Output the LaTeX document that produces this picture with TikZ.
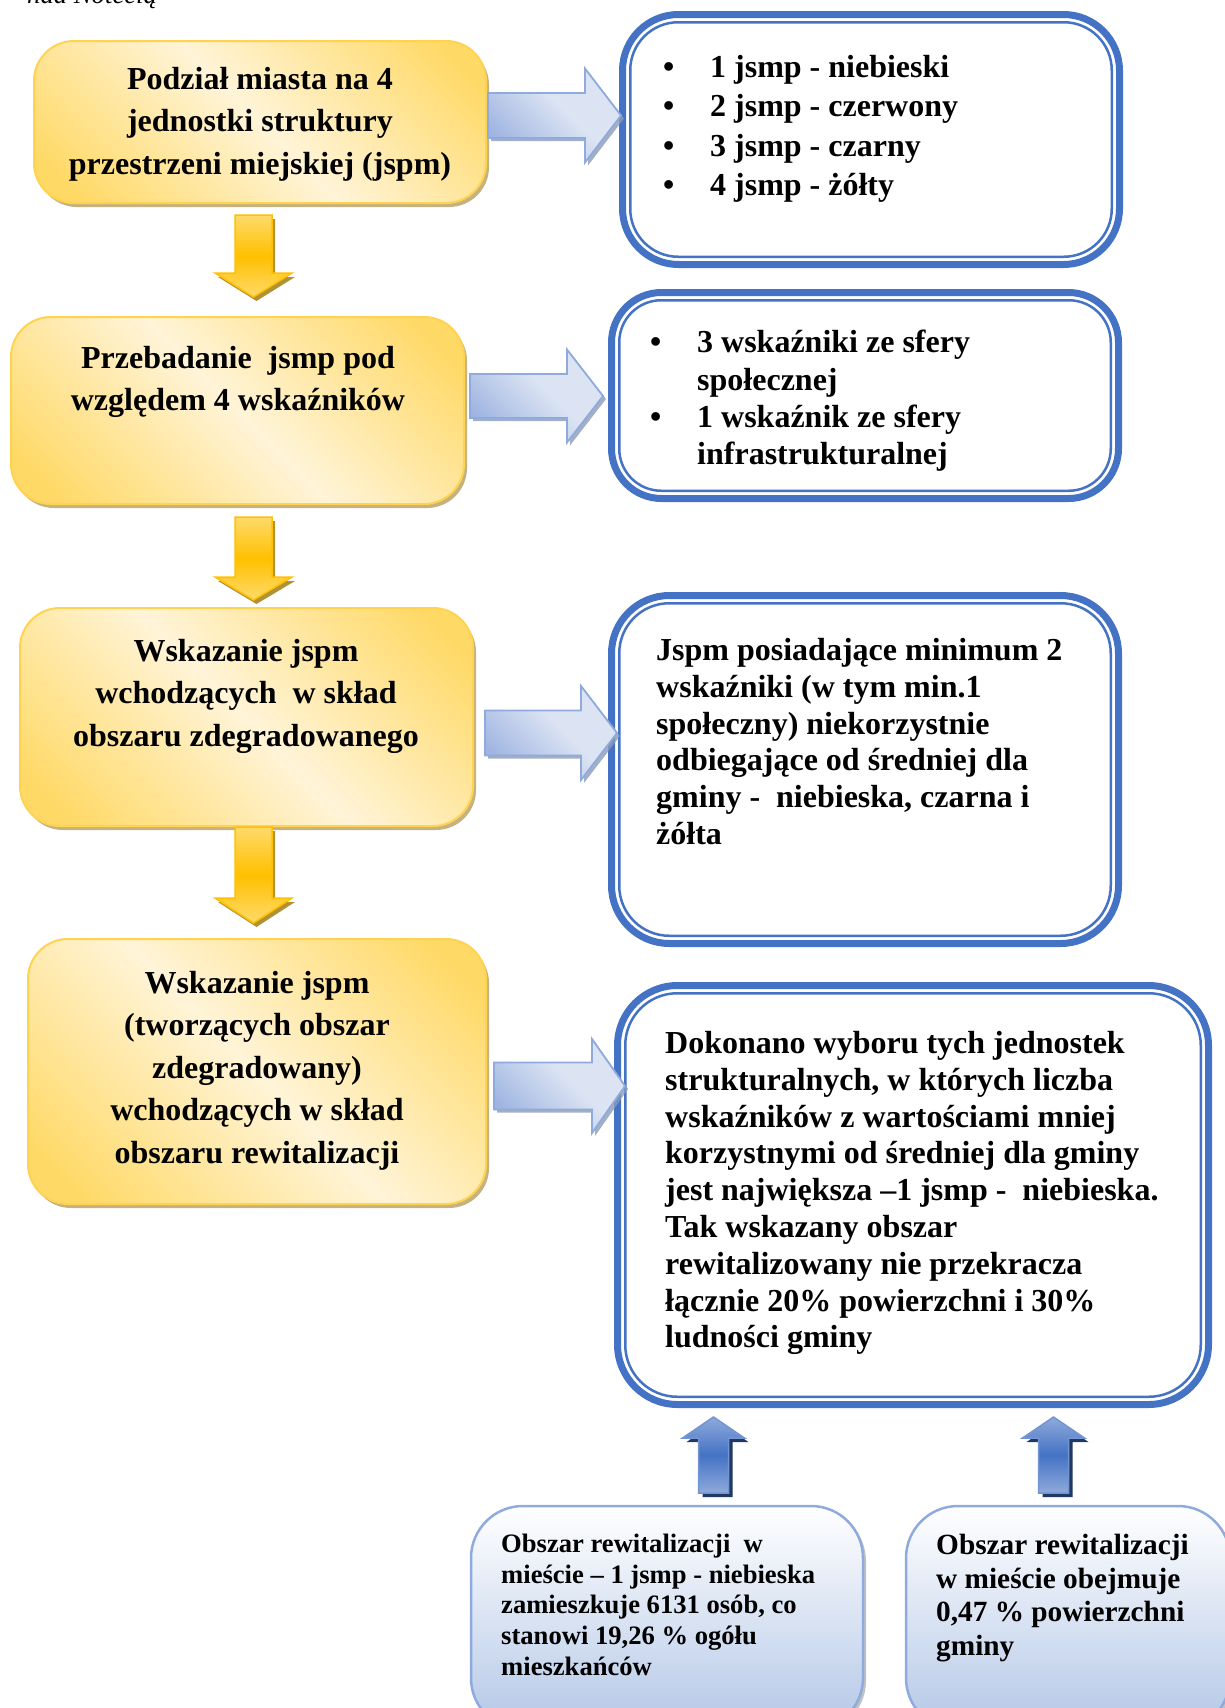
\documentclass[tikz,border=0pt]{standalone}
\usepackage{fontspec}
\setmainfont{Liberation Serif}
\usetikzlibrary{shadows}

\definecolor{ygold}{HTML}{FFD966}
\definecolor{ycream}{HTML}{FFF4D8}
\definecolor{yborder}{HTML}{FFD34F}
\definecolor{yshadow}{HTML}{BFAA73}
\definecolor{agold}{HTML}{FFC000}
\definecolor{alight}{HTML}{FFDA6A}
\definecolor{ashadow}{HTML}{A88520}
\definecolor{bblue}{HTML}{4472C4}
\definecolor{lblue}{HTML}{8FAADC}
\definecolor{pblue}{HTML}{DCE4F3}
\definecolor{mblue}{HTML}{9FB5E1}
\definecolor{gshadow}{HTML}{8C9BB5}
\definecolor{nshadow}{HTML}{203864}
\definecolor{boxbot}{HTML}{B4C7E7}

\pgfdeclarehorizontalshading{yboxshade}{100bp}{color(0bp)=(ygold); color(20bp)=(ygold); color(50bp)=(ycream); color(80bp)=(ygold); color(100bp)=(ygold)}
\pgfdeclarehorizontalshading{rarrowshade}{100bp}{color(0bp)=(mblue); color(25bp)=(mblue); color(55bp)=(pblue); color(100bp)=(pblue)}
\pgfdeclareverticalshading{yarrowshade}{100bp}{color(0bp)=(alight); color(25bp)=(alight); color(50bp)=(agold); color(75bp)=(alight); color(100bp)=(alight)}
\pgfdeclareverticalshading{uarrowshade}{100bp}{color(0bp)=(lblue); color(25bp)=(lblue); color(50bp)=(bblue); color(75bp)=(lblue); color(100bp)=(lblue)}

\newcommand\fsY{\fontsize{32pt}{42.5pt}\selectfont\bfseries}
\newcommand\bul{\makebox[47pt][l]{•}}
\newcommand\bulind{\hspace*{47pt}}

% horizontal block arrow: style, tail x, head base x, tip x, centre y, shaft half, head half
\newcommand\hblock[7]{\path[#1] (#2,#5-#6) -- (#3,#5-#6) -- (#3,#5-#7) -- (#4,#5) -- (#3,#5+#7) -- (#3,#5+#6) -- (#2,#5+#6) -- cycle;}
% vertical block arrow: style, centre x, tail y, head base y, tip y, shaft half, head half
\newcommand\vblock[7]{\path[#1] (#2-#6,#3) -- (#2+#6,#3) -- (#2+#6,#4) -- (#2+#7,#4) -- (#2,#5) -- (#2-#7,#4) -- (#2-#6,#4) -- cycle;}

\begin{document}
\begin{tikzpicture}[x=1pt,y=-1pt,
  ybox/.style={draw=yborder, line width=2pt, rounded corners=40pt, shade, shading=yboxshade, shading angle=45,
    outer sep=0pt, inner sep=0pt,
    drop shadow={shadow xshift=3pt, shadow yshift=-4pt, fill=yshadow, opacity=0.9}},
  ytext/.style={align=center, font=\fsY, inner sep=0pt, anchor=north},
  bbox/.style={draw=bblue, line width=7pt, fill=white, outer sep=0pt, inner sep=0pt},
  bin/.style={draw=bblue, line width=2.5pt},
  btext/.style={align=left, inner sep=0pt, anchor=north west},
  botbox/.style={draw=lblue, line width=2.5pt, rounded corners=52pt, top color=white, bottom color=boxbot,
    outer sep=0pt, inner sep=0pt,
    drop shadow={shadow xshift=3pt, shadow yshift=-3pt, fill=black!40, opacity=.6}},
  rarr/.style={draw=lblue, line width=1.8pt, shade, shading=rarrowshade, shading angle=45,
    drop shadow={shadow xshift=3pt, shadow yshift=-3pt, fill=gshadow, opacity=.8}},
  darr/.style={draw=agold, line width=1.5pt, shade, shading=yarrowshade,
    drop shadow={shadow xshift=3pt, shadow yshift=-4pt, fill=ashadow, opacity=.9}},
  uarr/.style={draw=bblue!75!white, line width=1.5pt, shade, shading=uarrowshade,
    drop shadow={shadow xshift=4pt, shadow yshift=-4pt, fill=nshadow, opacity=1}}
]
\useasboundingbox (0,0) rectangle (1225,1708);
\clip (0,0) rectangle (1225,1708);

% cut header text
\node[anchor=base west, inner sep=0pt, font=\fontsize{26.7pt}{30pt}\selectfont\itshape] (hdr) at (27,3) {nad Notecią};

% yellow step boxes
\node[ybox, minimum width=452pt, minimum height=162pt] (y1) at (260,122) {};
\node[ybox, minimum width=453pt, minimum height=187pt] (y2) at (237.5,410.5) {};
\node[ybox, minimum width=453pt, minimum height=218pt] (y3) at (246.5,717) {};
\node[ybox, minimum width=458pt, minimum height=265pt] (y4) at (257,1071.5) {};

\node[ytext] (y1t) at (260,67) {Podział miasta na 4\\jednostki struktury\\przestrzeni miejskiej (jspm)};
\node[ytext] (y2t) at (238,346) {Przebadanie\ \ jsmp pod\\względem 4 wskaźników};
\node[ytext] (y3t) at (246,639) {Wskazanie jspm\\wchodzących\ \ w skład\\obszaru zdegradowanego};
\node[ytext] (y4t) at (257,971) {Wskazanie jspm\\(tworzących obszar\\zdegradowany)\\wchodzących w skład\\obszaru rewitalizacji};

% yellow down arrows
\vblock{darr}{253.5}{215}{273}{297}{18.5}{38.5}
\vblock{darr}{253.5}{517}{577}{600}{18.5}{38.5}
\vblock{darr}{253.5}{827}{898}{923}{18.5}{38.5}

% blue double-bordered boxes
\node[bbox, rounded corners=56pt, minimum width=497pt, minimum height=250pt] (b1) at (871,139.5) {};
\draw[bin, rounded corners=48pt] ([shift={(7.75,7.75)}]b1.north west) rectangle ([shift={(-7.75,-7.75)}]b1.south east);
\node[bbox, rounded corners=50pt, minimum width=507pt, minimum height=206pt] (b2) at (865,395.5) {};
\draw[bin, rounded corners=42pt] ([shift={(7.75,7.75)}]b2.north west) rectangle ([shift={(-7.75,-7.75)}]b2.south east);
\node[bbox, rounded corners=58pt, minimum width=507pt, minimum height=348pt] (b3) at (865,769.5) {};
\draw[bin, rounded corners=50pt] ([shift={(7.75,7.75)}]b3.north west) rectangle ([shift={(-7.75,-7.75)}]b3.south east);
\node[bbox, rounded corners=60pt, minimum width=591pt, minimum height=419pt] (b4) at (913,1195) {};
\draw[bin, rounded corners=52pt] ([shift={(7.75,7.75)}]b4.north west) rectangle ([shift={(-7.75,-7.75)}]b4.south east);

\node[btext, font=\fontsize{32pt}{39.3pt}\selectfont\bfseries] (b1t) at (663,55)
  {\bul 1 jsmp - niebieski\\\bul 2 jsmp - czerwony\\\bul 3 jsmp - czarny\\\bul 4 jsmp - żółty};
\node[btext, font=\fontsize{32pt}{37.3pt}\selectfont\bfseries] (b2t) at (650,330)
  {\bul 3 wskaźniki ze sfery\\\bulind społecznej\\\bul 1 wskaźnik ze sfery\\\bulind infrastrukturalnej};
\node[btext, font=\fontsize{32pt}{36.8pt}\selectfont\bfseries] (b3t) at (656,638)
  {Jspm posiadające minimum 2\\wskaźniki (w tym min.1\\społeczny) niekorzystnie\\odbiegające od średniej dla\\gminy -\ \ niebieska, czarna i\\żółta};
\node[btext, font=\fontsize{32pt}{36.8pt}\selectfont\bfseries] (b4t) at (665,1031)
  {Dokonano wyboru tych jednostek\\strukturalnych, w których liczba\\wskaźników z wartościami mniej\\korzystnymi od średniej dla gminy\\jest największa –1 jsmp -\ \ niebieska.\\Tak wskazany obszar\\rewitalizowany nie przekracza\\łącznie 20\% powierzchni i 30\%\\ludności gminy};

% blue right arrows
\hblock{rarr}{488}{585}{621}{115.5}{22.5}{47}
\hblock{rarr}{470}{567}{603}{396}{22}{46.5}
\hblock{rarr}{485}{581}{617}{733}{22.5}{47}
\hblock{rarr}{494}{592}{625}{1086}{23.5}{47}

% bottom boxes
\node[botbox, minimum width=392pt, minimum height=224pt] (l1) at (667,1618) {};
\node[botbox, minimum width=324pt, minimum height=224pt] (r1) at (1068,1618) {};
\node[btext, font=\fontsize{26.6pt}{30.6pt}\selectfont\bfseries] (l1t) at (501,1534)
  {Obszar rewitalizacji\ \ w\\mieście – 1 jsmp - niebieska\\zamieszkuje 6131 osób, co\\stanowi 19,26 \% ogółu\\mieszkańców};
\node[btext, font=\fontsize{29.3pt}{33.6pt}\selectfont\bfseries] (r1t) at (936,1534)
  {Obszar rewitalizacji\\w mieście obejmuje\\0,47 \% powierzchni\\gminy};

% blue up arrows
\vblock{uarr}{713.5}{1493}{1438}{1417}{15}{31}
\vblock{uarr}{1053.5}{1493}{1438}{1417}{15}{31}
\end{tikzpicture}
\end{document}
